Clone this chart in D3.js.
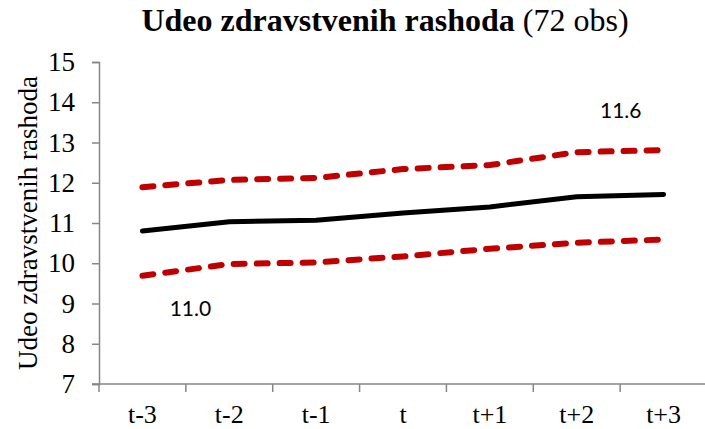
<!DOCTYPE html>
<html>
<head>
<meta charset="utf-8">
<script src="https://cdn.jsdelivr.net/npm/d3@7"></script>
<style>
  body { margin: 0; background: #fff; }
</style>
</head>
<body>
<div id="chart"></div>
<script>
// data
const periods = ["t-3", "t-2", "t-1", "t", "t+1", "t+2", "t+3"];
const meanValues = [10.80, 11.03, 11.07, 11.25, 11.40, 11.65, 11.71];
const upperValues = [11.89, 12.07, 12.12, 12.34, 12.44, 12.76, 12.81];
const lowerValues = [9.69, 9.98, 10.02, 10.17, 10.36, 10.51, 10.59];
const yTicks = [7, 8, 9, 10, 11, 12, 13, 14, 15];
const preLabel = "11.0";
const postLabel = "11.6";

const serif = "'Liberation Serif', 'Times New Roman', serif";
const sans = "Lato, 'Noto Sans', sans-serif";

const width = 705, height = 429;
const margin = { top: 62, right: -2, bottom: 45, left: 99 };
const innerW = width - margin.left - margin.right;
const innerH = height - margin.top - margin.bottom;

const svg = d3.select("#chart")
    .append("svg")
    .attr("width", width)
    .attr("height", height);

const g = svg.append("g")
    .attr("transform", `translate(${margin.left},${margin.top})`);

const x = d3.scaleBand().domain(periods).range([0, innerW]).paddingInner(0).paddingOuter(0);
const y = d3.scaleLinear().domain([7, 15]).range([innerH, 0]);
const cx = p => x(p) + x.bandwidth() / 2;

// y axis
const yAxis = g.append("g")
    .call(d3.axisLeft(y).tickValues(yTicks).tickSize(7).tickFormat(d3.format("d")))
    .attr("font-family", serif)
    .attr("font-size", 27);
yAxis.select(".domain").attr("stroke", "#868686").attr("stroke-width", 1.5);
yAxis.selectAll(".tick line").attr("stroke", "#868686").attr("stroke-width", 1.5);
yAxis.selectAll(".tick text")
    .attr("x", -24)
    .attr("fill", "#000");

// x axis with ticks at band boundaries
const xAxis = g.append("g")
    .attr("transform", `translate(0,${innerH})`)
    .attr("font-family", serif)
    .attr("font-size", 26);
xAxis.append("line")
    .attr("x1", -7).attr("x2", innerW)
    .attr("stroke", "#868686").attr("stroke-width", 1.5);
xAxis.selectAll("line.tk")
    .data(periods)
    .join("line")
    .attr("class", "tk")
    .attr("x1", d => x(d)).attr("x2", d => x(d))
    .attr("y1", 0).attr("y2", 8)
    .attr("stroke", "#868686").attr("stroke-width", 1.5);
xAxis.selectAll("text")
    .data(periods)
    .join("text")
    .attr("x", d => cx(d))
    .attr("y", 39)
    .attr("text-anchor", "middle")
    .text(d => d);

// lines
const line = d3.line()
    .x((d, i) => cx(periods[i]))
    .y(d => y(d));

g.append("path")
    .datum(upperValues)
    .attr("d", line)
    .attr("fill", "none")
    .attr("stroke", "#C00000")
    .attr("stroke-width", 6)
    .attr("stroke-linecap", "round")
    .attr("stroke-dasharray", "11,12");

g.append("path")
    .datum(lowerValues)
    .attr("d", line)
    .attr("fill", "none")
    .attr("stroke", "#C00000")
    .attr("stroke-width", 6)
    .attr("stroke-linecap", "round")
    .attr("stroke-dasharray", "11,12");

g.append("path")
    .datum(meanValues)
    .attr("d", line)
    .attr("fill", "none")
    .attr("stroke", "#000")
    .attr("stroke-width", 5)
    .attr("stroke-linecap", "round");

// annotations
g.append("text")
    .attr("x", cx("t-3") + 48)
    .attr("y", y(8.7))
    .attr("text-anchor", "middle")
    .attr("font-family", sans)
    .attr("font-size", 21)
    .text(preLabel);

g.append("text")
    .attr("x", cx("t+2") + 44)
    .attr("y", y(13.6))
    .attr("text-anchor", "middle")
    .attr("font-family", sans)
    .attr("font-size", 21)
    .text(postLabel);

// y label
svg.append("text")
    .attr("transform", `translate(37,${margin.top + innerH / 2}) rotate(-90)`)
    .attr("text-anchor", "middle")
    .attr("font-family", serif)
    .attr("font-size", 27)
    .text("Udeo zdravstvenih rashoda");

// title
const title = svg.append("text")
    .attr("x", 385)
    .attr("y", 31)
    .attr("text-anchor", "middle")
    .attr("font-family", serif)
    .attr("font-size", 32);
title.append("tspan").attr("font-weight", "bold").text("Udeo zdravstvenih rashoda");
title.append("tspan").text(" (72 obs)");
</script>
</body>
</html>
